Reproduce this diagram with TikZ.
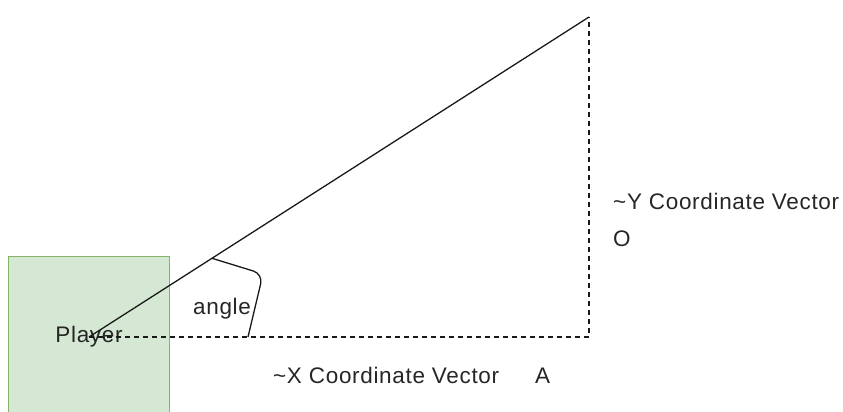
\documentclass[tikz,border=0pt]{standalone}
\usepackage{fontspec}
\setmainfont{Liberation Sans}[LetterSpace=3]
\usetikzlibrary{positioning, calc}
\definecolor{playerfill}{HTML}{D5E8D4}
\definecolor{playerline}{HTML}{82B366}

\begin{document}
\begin{tikzpicture}[
    x=1pt, y=-1pt,
    lbl/.style={inner sep=0pt, font=\fontsize{22.5}{27}\selectfont, text=black!85},
    box/.style={draw=playerline, fill=playerfill, line width=1.3pt,
      minimum width=161pt, minimum height=161pt, inner sep=0pt,
      font=\fontsize{22.5}{27}\selectfont, text=black!85},
    vec/.style={line width=1.3pt, draw=black!90},
    guide/.style={line width=1.3pt, draw=black!90, dash pattern=on 5pt off 4pt}
  ]
  \useasboundingbox (0,0) rectangle (843,412);
  \clip (0,0) rectangle (843,412);
  \node[box] (player) at (89,337) {Player};
  \coordinate (apex) at (589,17);
  \coordinate (corner) at (589,337);
  \draw[guide] (player.center) -- (corner) -- (apex);
  \draw[vec] (player.center) -- (apex);
  \draw[vec, rounded corners=10pt] ($(player.center)!0.246!(apex)$) -- (263,274)
    -- ($(player.center)!0.318!(corner)$);
  \node[lbl, anchor=base west] (angle) at (193,314) {angle};
  \node[lbl, anchor=base west] (xvec) at (273,383) {\textasciitilde X Coordinate Vector};
  \node[lbl, anchor=base west] (xname) at (535,383) {A};
  \node[lbl, anchor=base west] (yvec) at (613,209) {\textasciitilde Y Coordinate Vector};
  \node[lbl, anchor=base west] (yname) at (613,246) {O};
\end{tikzpicture}
\end{document}
